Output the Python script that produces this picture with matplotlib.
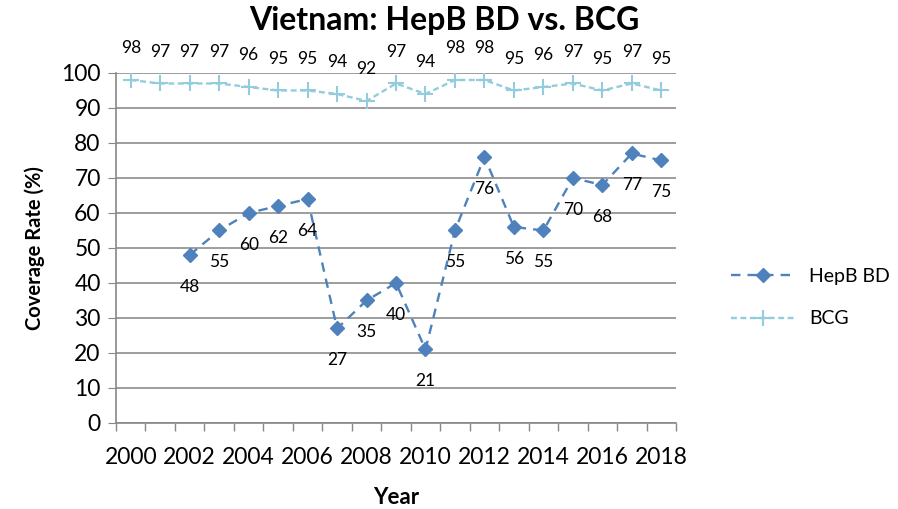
import numpy as np
import matplotlib.pyplot as plt

years = list(range(2000, 2019))
bcg = [98, 97, 97, 97, 96, 95, 95, 94, 92, 97, 94, 98, 98, 95, 96, 97, 95, 97, 95]
hepb_years = list(range(2002, 2019))
hepb = [48, 55, 60, 62, 64, 27, 35, 40, 21, 55, 76, 56, 55, 70, 68, 77, 75]

plt.rcParams['font.family'] = ['Lato', 'DejaVu Sans']

fig = plt.figure(figsize=(8.98, 5.09), dpi=100)
ax = fig.add_axes([0.1292, 0.169, 0.6236, 0.6876])

x_bcg = np.array([years.index(y) for y in years])
x_hep = np.array([years.index(y) for y in hepb_years])

hep_color = '#4F81BD'
bcg_color = '#93CDDD'

ax.plot(x_hep, hepb, color=hep_color, lw=1.7, ls=(0, (4, 3)),
        marker='D', ms=7.5, mfc=hep_color, mec=hep_color, label='HepB BD', zorder=3)
ax.plot(x_bcg, bcg, color=bcg_color, lw=1.7, ls=(0, (2.5, 1.5)),
        marker='+', ms=12, mew=1.5, mec=bcg_color, label='BCG', zorder=3)

for xi, v in zip(x_hep, hepb):
    ax.annotate(str(v), (xi, v), xytext=(0, -23), textcoords='offset points',
                ha='center', va='center', fontsize=12.5)
for xi, v in zip(x_bcg, bcg):
    ax.annotate(str(v), (xi, v), xytext=(0, 23), textcoords='offset points',
                ha='center', va='center', fontsize=12.5, annotation_clip=False)

ax.set_xlim(-0.5, len(years) - 0.5)
ax.set_ylim(0, 100)
ax.set_yticks(range(0, 101, 10))
ax.set_xticks(x_bcg[::2])
ax.set_xticklabels([str(y) for y in years[::2]])
ax.set_xticks(np.arange(-0.5, len(years), 1), minor=True)
ax.tick_params(axis='x', which='major', length=0, labelsize=16.5, pad=17)
ax.tick_params(axis='x', which='minor', length=6, color='#888888', width=1)
ax.tick_params(axis='y', length=6, color='#888888', labelsize=16.5, pad=5)

ax.grid(axis='y', color='#8c8c8c', lw=1.2)
ax.set_axisbelow(True)
for s in ['top', 'right']:
    ax.spines[s].set_visible(False)
for s in ['left', 'bottom']:
    ax.spines[s].set_color('#888888')
    ax.spines[s].set_linewidth(1.2)

fig.text(0.495, 0.96, 'Vietnam: HepB BD vs. BCG', fontsize=23, fontweight='bold',
         ha='center', va='center')
ax.set_xlabel('Year', fontsize=16, fontweight='bold', labelpad=14)
ax.set_ylabel('Coverage Rate (%)', fontsize=14.5, fontweight='bold', labelpad=12)

fig.legend(loc='center left', bbox_to_anchor=(0.795, 0.415), frameon=False,
           fontsize=14, handlelength=3.2, labelspacing=1.3, handletextpad=0.8)

fig.savefig('out.png', dpi=100)
